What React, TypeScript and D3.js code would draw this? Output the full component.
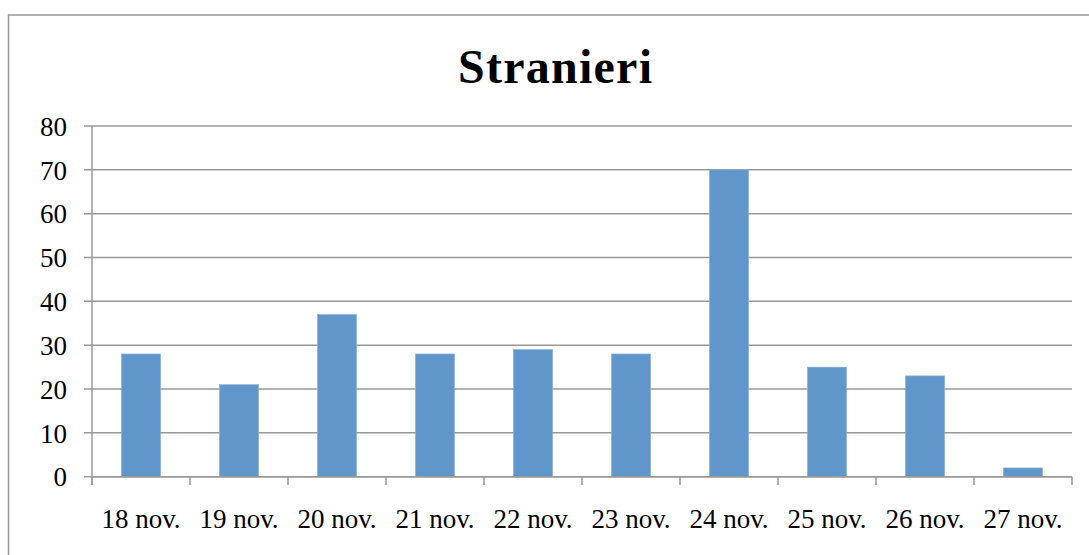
import React, { useEffect, useRef } from "react";
import * as d3 from "d3";

const categories = ["18 nov.", "19 nov.", "20 nov.", "21 nov.", "22 nov.", "23 nov.", "24 nov.", "25 nov.", "26 nov.", "27 nov."];
const values = [28, 21, 37, 28, 29, 28, 70, 25, 23, 2];
const yTicks = [0, 10, 20, 30, 40, 50, 60, 70, 80];
const title = "Stranieri";

const App = () => {
  const svgRef = useRef<SVGSVGElement>(null);

  useEffect(() => {
    const svg = d3.select(svgRef.current);
    const width = 1089;
    const height = 555;
    const font = "'Liberation Serif', 'Times New Roman', serif";
    const grey = "#989898";

    svg.selectAll("*").remove();

    // outer frame (runs past the right and bottom edges)
    svg.append("rect")
      .attr("x", 8.5)
      .attr("y", 15)
      .attr("width", width + 20)
      .attr("height", height + 20)
      .attr("fill", "white")
      .attr("stroke", grey)
      .attr("stroke-width", 1.5);

    svg.append("text")
      .attr("x", 555)
      .attr("y", 83)
      .attr("text-anchor", "middle")
      .attr("font-family", font)
      .attr("font-weight", "bold")
      .attr("font-size", 48)
      .attr("textLength", 194)
      .text(title);

    const x = d3.scaleBand().domain(categories).range([92, 1072]).paddingInner(0).paddingOuter(0);
    const y = d3.scaleLinear().domain([0, 80]).range([476.7, 126]);

    const g = svg.append("g");

    // gridlines + y ticks
    g.selectAll(".grid")
      .data(yTicks)
      .enter()
      .append("line")
      .attr("x1", 84)
      .attr("x2", 1072)
      .attr("y1", (d) => y(d))
      .attr("y2", (d) => y(d))
      .attr("stroke", grey)
      .attr("stroke-width", 1.5);

    g.selectAll(".ylab")
      .data(yTicks)
      .enter()
      .append("text")
      .attr("x", 67)
      .attr("y", (d) => y(d))
      .attr("dy", "0.36em")
      .attr("text-anchor", "end")
      .attr("font-family", font)
      .attr("font-size", 27)
      .text((d) => d);

    // bars
    const barW = x.bandwidth() / 2.5;
    g.selectAll(".bar")
      .data(values)
      .enter()
      .append("rect")
      .attr("x", (d, i) => x(categories[i])! + (x.bandwidth() - barW) / 2)
      .attr("y", (d) => y(d))
      .attr("width", barW)
      .attr("height", (d) => y(0) - y(d))
      .attr("fill", "#6096ca")
      .attr("stroke", "#8db4de")
      .attr("stroke-width", 0.6);

    // y axis line
    g.append("line")
      .attr("x1", 92)
      .attr("x2", 92)
      .attr("y1", y(80))
      .attr("y2", 485)
      .attr("stroke", grey)
      .attr("stroke-width", 1.5);

    // x axis line
    g.append("line")
      .attr("x1", 92)
      .attr("x2", 1072)
      .attr("y1", y(0))
      .attr("y2", y(0))
      .attr("stroke", grey)
      .attr("stroke-width", 1.5);

    // category ticks
    const bounds = categories.map((c) => x(c)!).concat([1072]);
    g.selectAll(".xtick")
      .data(bounds)
      .enter()
      .append("line")
      .attr("x1", (d) => d)
      .attr("x2", (d) => d)
      .attr("y1", y(0))
      .attr("y2", 485)
      .attr("stroke", grey)
      .attr("stroke-width", 1.5);

    g.selectAll(".xlab")
      .data(categories)
      .enter()
      .append("text")
      .attr("x", (d) => x(d)! + x.bandwidth() / 2)
      .attr("y", 528)
      .attr("text-anchor", "middle")
      .attr("font-family", font)
      .attr("font-size", 27)
      .text((d) => d);
  }, []);

  return (
    <svg
      ref={svgRef}
      width={1089}
      height={555}
      style={{ position: "absolute", left: 0, top: 0, background: "white" }}
    ></svg>
  );
};

export default App;
